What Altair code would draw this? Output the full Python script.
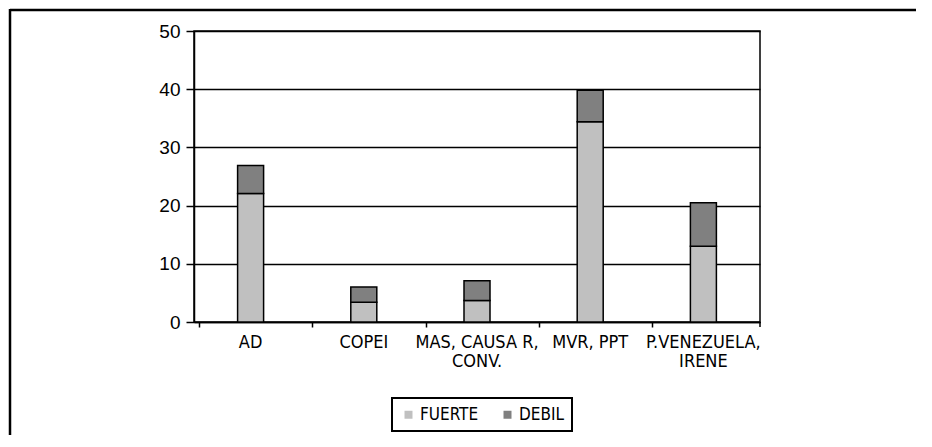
import altair as alt
import pandas as pd

categories = ["AD", "COPEI", "MAS, CAUSA R,\nCONV.", "MVR, PPT", "P.VENEZUELA,\nIRENE"]
fuerte = [22.1, 3.4, 3.7, 34.4, 13.0]
debil = [4.8, 2.6, 3.4, 5.4, 7.5]
series = ["FUERTE", "DEBIL"]
colors = ["#c0c0c0", "#808080"]
y_ticks = [0, 10, 20, 30, 40, 50]

rows = []
for c, f, d in zip(categories, fuerte, debil):
    rows.append({"cat": c, "serie": "FUERTE", "val": f, "ord": 0})
    rows.append({"cat": c, "serie": "DEBIL", "val": d, "ord": 1})
df = pd.DataFrame(rows)

narrow = "Liberation Sans Narrow, DejaVu Sans Condensed, sans-serif"
regular = "Liberation Sans, Arial, sans-serif"

W, H = 566, 291
PL, PT, PR, PB = 186, 23, 164, 113

bars = alt.Chart(df).mark_bar(width=26, stroke="black", strokeWidth=1.5).encode(
    x=alt.X("cat:N", sort=categories, title=None,
            axis=alt.Axis(labelAngle=0, bandPosition=0, labelExpr="split(datum.label, '\\n')",
                          labelFont=narrow, labelFontSize=18, labelLineHeight=19,
                          labelColor="black", tickColor="black", tickSize=5, tickWidth=1.5,
                          domainColor="black", domainWidth=1.5, labelPadding=6, grid=False)),
    y=alt.Y("val:Q", stack="zero", title=None,
            scale=alt.Scale(domain=[0, 50], nice=False),
            axis=alt.Axis(values=y_ticks, labelFont=regular, labelFontSize=19, labelColor="black",
                          tickColor="black", tickSize=8, tickWidth=1.5, domainColor="black",
                          domainWidth=1.5, labelPadding=6, grid=True, gridColor="black",
                          gridWidth=1.5, gridOpacity=1)),
    color=alt.Color("serie:N", scale=alt.Scale(domain=series, range=colors), title=None,
                    legend=alt.Legend(orient="none", legendX=198, legendY=367, direction="horizontal",
                                      symbolType="square", symbolSize=64, symbolStrokeWidth=0,
                                      labelFont=narrow, labelFontSize=17, labelColor="black",
                                      strokeColor="black", padding=8, columnPadding=20,
                                      labelOffset=3)),
    order=alt.Order("ord:Q", sort="ascending"),
)

frame_df = pd.DataFrame({"k": [0]})
frame_top = alt.Chart(frame_df).mark_rule(color="black", strokeWidth=2.5).encode(
    x=alt.value(-PL + 2), x2=alt.value(W + PR - 8), y=alt.value(-PT + 2)
)
frame_left = alt.Chart(frame_df).mark_rule(color="black", strokeWidth=2.5).encode(
    x=alt.value(-PL + 2), y=alt.value(-PT + 1), y2=alt.value(H + PB)
)
end_tick = alt.Chart(frame_df).mark_rule(color="black", strokeWidth=1.5).encode(
    x=alt.value(W), y=alt.value(H), y2=alt.value(H + 5)
)

chart = alt.layer(bars, end_tick, frame_top, frame_left).properties(
    width=W, height=H,
    autosize=alt.AutoSizeParams(type="none"),
    padding={"left": PL, "top": PT, "right": PR, "bottom": PB},
).configure_view(stroke="black", strokeWidth=1.5).configure_legend(strokeWidth=2)

chart.save("out.html", embed_options={"renderer": "svg", "actions": False})
